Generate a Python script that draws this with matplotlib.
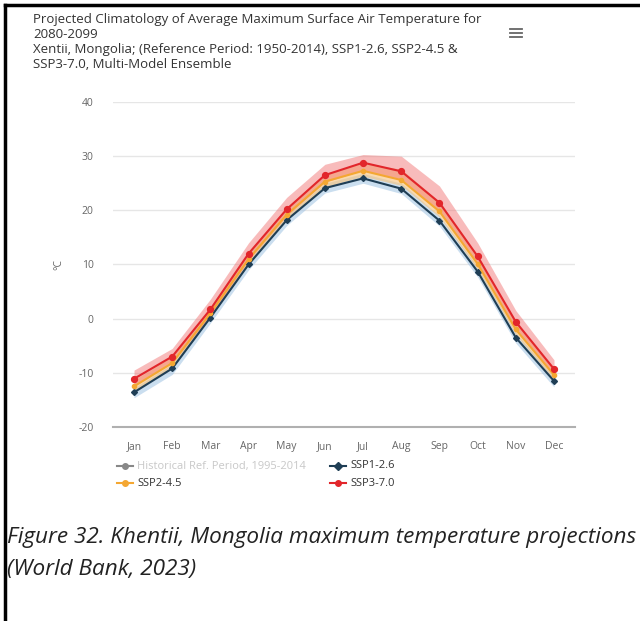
import matplotlib
matplotlib.use("Agg")
import matplotlib.pyplot as plt
from matplotlib.lines import Line2D

plt.rcParams['font.family'] = ['Open Sans', 'DejaVu Sans']
plt.rcParams['axes.unicode_minus'] = False

months = ['Jan', 'Feb', 'Mar', 'Apr', 'May', 'Jun',
          'Jul', 'Aug', 'Sep', 'Oct', 'Nov', 'Dec']

# ensemble medians (°C)
ssp126 = [-13.6, -9.2, 0.2, 10.0, 18.2, 24.1, 25.9, 24.0, 18.1, 8.7, -3.5, -11.5]
ssp245 = [-12.5, -8.2, 1.0, 11.0, 19.2, 25.3, 27.3, 25.6, 19.8, 10.1, -2.0, -10.4]
ssp370 = [-11.1, -7.0, 1.7, 12.0, 20.2, 26.5, 28.8, 27.2, 21.4, 11.5, -0.6, -9.3]

# ensemble ranges (°C)
ssp126_lo = [-14.6, -10.3, -0.8, 9.0, 17.2, 23.2, 25.0, 23.1, 17.1, 7.7, -4.5, -12.6]
ssp126_hi = [-12.8, -8.4, 1.0, 10.8, 19.0, 25.0, 26.8, 25.0, 19.0, 9.6, -2.6, -10.7]
ssp245_lo = [-13.4, -9.0, 0.2, 10.1, 18.3, 24.3, 26.3, 24.6, 18.8, 9.1, -3.0, -11.3]
ssp245_hi = [-11.3, -7.0, 2.2, 12.4, 20.6, 26.8, 28.7, 27.6, 21.6, 11.6, -0.8, -9.1]
ssp370_lo = [-12.3, -8.2, 0.6, 10.8, 19.0, 25.2, 27.4, 25.8, 19.9, 10.0, -2.0, -10.6]
ssp370_hi = [-9.5, -5.5, 3.6, 14.0, 22.4, 28.5, 30.3, 30.0, 24.5, 14.0, 1.5, -7.6]

yticks = [-20, -10, 0, 10, 20, 30, 40]

c_126 = '#1f3e55'
c_245 = '#f4a732'
c_370 = '#e2262b'

W, H = 640, 621
fig = plt.figure(figsize=(W / 100, H / 100), dpi=100)

# frame around the chart
fig.add_artist(Line2D([5 / W, 5 / W], [0, 1 - 5 / H], color='black', lw=2.5))
fig.add_artist(Line2D([5 / W, 1], [1 - 5 / H, 1 - 5 / H], color='black', lw=2.5))

ax = fig.add_axes([113 / W, 1 - 427 / H, (575 - 113) / W, (427 - 102) / H])
x = list(range(len(months)))

ax.fill_between(x, ssp126_lo, ssp126_hi, color='#9fc3e3', alpha=0.55, lw=0, zorder=1)
ax.fill_between(x, ssp245_lo, ssp245_hi, color='#f8c27a', alpha=0.6, lw=0, zorder=2)
ax.fill_between(x, ssp370_lo, ssp370_hi, color='#f06a6a', alpha=0.45, lw=0, zorder=3)

ax.plot(x, ssp126, color=c_126, lw=1.5, marker='D', ms=3, zorder=5)
ax.plot(x, ssp245, color=c_245, lw=1.5, marker='o', ms=3, zorder=6)
ax.plot(x, ssp370, color=c_370, lw=1.5, marker='o', ms=4.2, zorder=7)

ax.set_xlim(-0.55, 11.55)
ax.set_ylim(-20, 40)
ax.set_yticks(yticks)
ax.set_xticks(x)
ax.set_xticklabels(months)
ax.grid(axis='y', color='#e6e6e6', lw=1)
ax.set_axisbelow(True)
for s in ['top', 'right', 'left']:
    ax.spines[s].set_visible(False)
ax.spines['bottom'].set_color('#b0b0b0')
ax.spines['bottom'].set_linewidth(1.5)
ax.tick_params(axis='both', length=0, labelsize=7.5, colors='#666666')
ax.tick_params(axis='x', pad=10)
ax.tick_params(axis='y', pad=14)
ax.set_ylabel('°C', fontsize=7.5, color='#666666', labelpad=10)

# title
title = ('Projected Climatology of Average Maximum Surface Air Temperature for\n'
         '2080-2099\n'
         'Xentii, Mongolia; (Reference Period: 1950-2014), SSP1-2.6, SSP2-4.5 &\n'
         'SSP3-7.0, Multi-Model Ensemble')
fig.text(33 / W, 1 - 13 / H, title, fontsize=9.5, color='#333333',
         va='top', ha='left', linespacing=1.2)
# menu icon
for dy in (29, 33, 37):
    fig.add_artist(Line2D([510 / W, 522 / W], [1 - dy / H, 1 - dy / H],
                          color='#666666', lw=1.3))

# legend: line stub with a marker in the middle, then the label
items = [
    (117, 466, '#888888', 'Historical Ref. Period, 1995-2014', '#c8c8c8', 'o'),
    (330, 466, c_126, 'SSP1-2.6', '#333333', 'D'),
    (117, 483, c_245, 'SSP2-4.5', '#333333', 'o'),
    (330, 483, c_370, 'SSP3-7.0', '#333333', 'o'),
]
for px, py, col, lab, tcol, mk in items:
    fig.add_artist(Line2D([px / W, (px + 16) / W], [1 - py / H, 1 - py / H],
                          color=col, lw=1.5))
    fig.add_artist(Line2D([(px + 8) / W], [1 - py / H], color=col,
                          marker=mk, ms=4, lw=0))
    fig.text((px + 20) / W, 1 - py / H, lab, fontsize=8, color=tcol, va='center')

# caption
fig.text(7 / W, 1 - 538 / H, 'Figure 32. Khentii, Mongolia maximum temperature projections',
         fontsize=16.2, style='italic', color='#222222', va='center', ha='left')
fig.text(7 / W, 1 - 569 / H, '(World Bank, 2023)',
         fontsize=16.2, style='italic', color='#222222', va='center', ha='left')

fig.savefig('out.png', dpi=100)
